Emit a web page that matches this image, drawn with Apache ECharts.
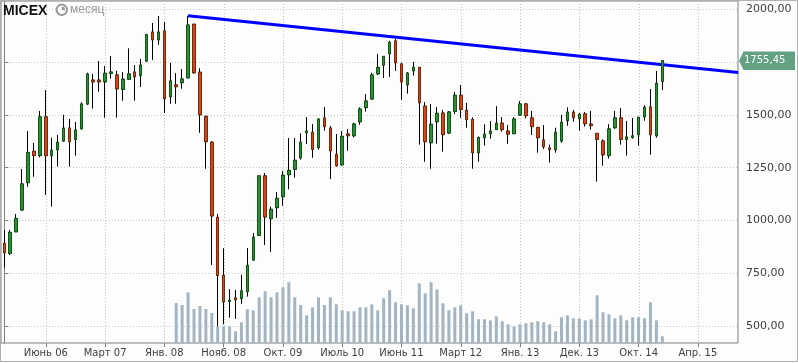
<!DOCTYPE html>
<html><head><meta charset="utf-8">
<script src="https://cdn.jsdelivr.net/npm/echarts@6/dist/echarts.min.js"></script>
<style>html,body{margin:0;padding:0;background:#fdfdfd}#c{width:798px;height:363px}</style>
</head><body><div id="c"></div>
<script>
const chartTitle = 'MICEX';
const periodLabel = 'месяц';
// monthly candles, index 0 = first candle on the left
const opens = [892,845,947,1050,1179,1327,1307,1490,1307,1335,
1376,1437,1384,1434,1551,1664,1664,1656,1696,1688,
1620,1668,1702,1685,1754,1891,1855,1896,1586,1641,
1652,1675,1928,1701,1493,1370,1015,741,617,634,
631,664,814,930,1211,1009,1061,1113,1217,1242,
1296,1415,1417,1345,1485,1437,1313,1264,1409,1401,
1467,1534,1575,1694,1735,1789,1849,1740,1642,1708,
1724,1541,1368,1467,1508,1414,1516,1592,1521,1478,
1321,1392,1411,1430,1460,1423,1411,1499,1551,1485,
1439,1381,1343,1335,1376,1472,1512,1482,1504,1456,
1412,1376,1307,1439,1485,1384,1393,1406,1491,1537,
1401,1658];
const closes = [848,944,1010,1173,1322,1307,1490,1307,1332,1370,
1437,1373,1428,1551,1693,1656,1656,1696,1702,1623,
1668,1693,1680,1735,1879,1855,1891,1576,1660,1633,
1669,1924,1699,1500,1373,1022,740,615,623,626,
667,788,921,1211,1017,1053,1105,1214,1237,1285,
1370,1423,1337,1480,1444,1330,1259,1398,1401,1456,
1527,1565,1688,1724,1776,1842,1746,1656,1697,1724,
1557,1373,1455,1507,1406,1513,1592,1526,1478,1321,
1392,1408,1423,1460,1430,1409,1480,1551,1496,1444,
1392,1349,1335,1417,1464,1512,1486,1502,1458,1449,
1384,1311,1433,1485,1384,1395,1400,1488,1535,1406,
1649,1755.45];
const lows = [777,837,947,1047,1160,1207,1299,1121,1066,1255,
1373,1255,1307,1431,1546,1529,1609,1486,1671,1486,
1567,1664,1567,1631,1751,1759,1831,1508,1552,1552,
1623,1672,1694,1415,1245,790,498,509,541,535,
606,640,810,927,884,851,1012,1070,1148,1203,
1288,1362,1297,1335,1425,1196,1255,1259,1330,1393,
1453,1515,1570,1688,1674,1679,1707,1571,1600,1685,
1359,1278,1245,1363,1326,1409,1504,1485,1439,1245,
1278,1354,1387,1430,1420,1363,1408,1496,1483,1404,
1321,1338,1274,1321,1368,1448,1467,1425,1444,1430,
1184,1259,1293,1434,1359,1307,1387,1354,1472,1311,
1392,1617];
const highs = [955,955,1031,1244,1423,1367,1518,1617,1392,1404,
1500,1480,1466,1559,1699,1693,1754,1731,1778,1708,
1702,1814,1735,1764,1883,1934,1967,1939,1745,1697,
1716,1968,1930,1720,1495,1376,1031,869,676,672,
743,870,941,1211,1225,1066,1135,1234,1390,1390,
1412,1489,1456,1480,1537,1447,1409,1423,1433,1463,
1535,1598,1699,1787,1776,1850,1858,1746,1702,1750,
1726,1560,1551,1537,1523,1518,1608,1641,1556,1488,
1398,1455,1471,1541,1489,1452,1489,1565,1556,1518,
1444,1452,1359,1439,1499,1535,1523,1508,1513,1518,
1414,1384,1456,1518,1532,1471,1485,1490,1545,1622,
1707,1759];
// volume (relative units), first bar belongs to candle index volStartIndex
const volStartIndex = 29;
const volumes = [40,38,50.7,34,37,34,
30,16,16.7,16.7,11.7,20.7,33.7,32.7,45.7,51.7,45.7,50.7,55.7,60.7,45.7,38,27.7,35.7,
45.7,38,45.7,38.7,32.7,31.7,31.7,35.7,35.7,38.7,32.7,44.7,52.7,40.7,38.7,37.7,34.7,
59.7,49.7,60.7,53.7,39.7,32.7,35.7,37.7,29.7,31.7,23.7,23.7,22.7,26.7,21.7,18.7,16.7,18.7,
19.7,20.7,21.7,20.7,18.7,11.7,25.7,27.7,24.7,24.7,22.7,23.7,47.7,30.7,28.7,24.7,27.7,22.7,
25.7,25.7,24.7,40.7,22.7,6.7];
const xTickAt = [7,17,27,37,47,57,67,77,87,97,107,117];
const xTickLabels = ['Июнь 06','Март 07','Янв. 08','Нояб. 08','Окт. 09','Июль 10','Июнь 11','Март 12','Янв. 13','Дек. 13','Окт. 14','Апр. 15'];
const yTicks = [500,750,1000,1250,1500,1750,2000];
const trendLine = [[31,1968],[123.8,1700]];
const lastPrice = 1755.45;

const Y_MIN = 421, Y_MAX = 2038;
const fmt = v => v.toFixed(2).replace('.', ',');
const chart = echarts.init(document.getElementById('c'), null, {renderer:'canvas'});
const candleData = opens.map((o,i)=>[i,o,closes[i],lows[i],highs[i]]);
const bodyData = opens.map((o,i)=>[i,o,closes[i],Math.min(o,closes[i]),Math.max(o,closes[i])]);
const volData = volumes.map((v,k)=>[volStartIndex+k, v]);

chart.setOption({
  animation:false,
  backgroundColor:'#fdfdfd',
  grid:{left:1, top:1, width:737, height:342, show:true, borderColor:'#7f7f7f', borderWidth:1, backgroundColor:'transparent'},
  xAxis:{type:'value', min:-0.557, max:123.77,
    axisLine:{show:false},
    axisTick:{show:true, customValues:xTickAt, length:4, lineStyle:{color:'#808080'}},
    axisLabel:{customValues:xTickAt, color:'#404040', fontFamily:'DejaVu Sans', fontSize:10, margin:5,
      formatter:v=>{const k=xTickAt.findIndex(t=>Math.abs(t-v)<0.01);return k>=0?xTickLabels[k]:'';}},
    splitLine:{show:false}
  },
  yAxis:[{type:'value', position:'right', min:Y_MIN, max:Y_MAX,
    axisLine:{show:true, lineStyle:{color:'#7f7f7f'}},
    axisTick:{show:true, customValues:yTicks, length:4, lineStyle:{color:'#808080'}},
    axisLabel:{customValues:yTicks, formatter:fmt, color:'#404040', fontFamily:'DejaVu Sans', fontSize:11, margin:8},
    splitLine:{show:true, lineStyle:{color:'#c8c8c8', type:[1,2], width:1}}
  },{type:'value', min:0, max:342, show:false, splitLine:{show:false}}],
  series:[
    {type:'custom', xAxisIndex:0, yAxisIndex:0, data:xTickAt.map(v=>[v]), encode:{x:0}, z:0, silent:true, clip:true,
      renderItem:(params, api)=>{
        const v = api.value(0);
        const p1 = api.coord([v, Y_MAX]);
        const p2 = api.coord([v, Y_MIN]);
        const x = Math.round(p1[0]) + 0.5;
        return {type:'line', shape:{x1:x, y1:p1[1], x2:x, y2:p2[1]},
          style:{stroke:'#bcc8bc', lineWidth:1, lineDash:[1,2]}};
      }},
    {type:'bar', xAxisIndex:0, yAxisIndex:1, data:volData, barWidth:3, itemStyle:{color:'#a3b4c3'}, z:1, silent:true},
    {type:'line', data:trendLine, symbol:'none', lineStyle:{color:'#0000ff', width:3}, z:3, silent:true},
    {type:'candlestick', data:candleData, encode:{x:0,y:[1,2,3,4]}, barWidth:3, z:4,
      itemStyle:{color:'rgba(0,0,0,0)', color0:'rgba(0,0,0,0)', borderColor:'#000', borderColor0:'#000', borderColorDoji:'#000', borderWidth:1}},
    {type:'candlestick', data:bodyData, encode:{x:0,y:[1,2,3,4]}, barWidth:3, z:5,
      itemStyle:{color:'#2e8b3a', color0:'#cf461d', borderColor:'#0f5a12', borderColor0:'#7a2a0a', borderColorDoji:'#0f5a12', borderWidth:1}}
  ]
});

const py = chart.convertToPixel({yAxisIndex:0}, lastPrice);
chart.setOption({graphic:[
  {type:'rect', shape:{x:0.5,y:0.5,width:797,height:361}, style:{fill:'none', stroke:'#b0b0b0', lineWidth:1}, z:100, silent:true},
  {type:'text', left:3, top:4, style:{text:chartTitle, font:'bold 14px "Liberation Sans"', fill:'#111'}, z:100},
  {type:'circle', shape:{cx:61.8, cy:9.8, r:5.2}, style:{fill:'#fff', stroke:'#9a9a9a', lineWidth:2}, z:100},
  {type:'sector', shape:{cx:61.8, cy:9.8, r:3.2, r0:0, startAngle:-Math.PI/2, endAngle:0.3}, style:{fill:'#9a9a9a'}, z:100},
  {type:'text', left:70, top:4, style:{text:periodLabel, font:'12px "Liberation Sans"', fill:'#9a9a9a'}, z:100},
  {type:'polygon', shape:{points:[[739,py],[743.5,py-9.3],[795,py-9.3],[795,py+9.3],[743.5,py+9.3]]}, style:{fill:'#62a283'}, z:100},
  {type:'text', x:744, y:py, style:{text:fmt(lastPrice), font:'10px "DejaVu Sans"', fill:'#fff', verticalAlign:'middle'}, z:101}
]});
</script></body></html>
